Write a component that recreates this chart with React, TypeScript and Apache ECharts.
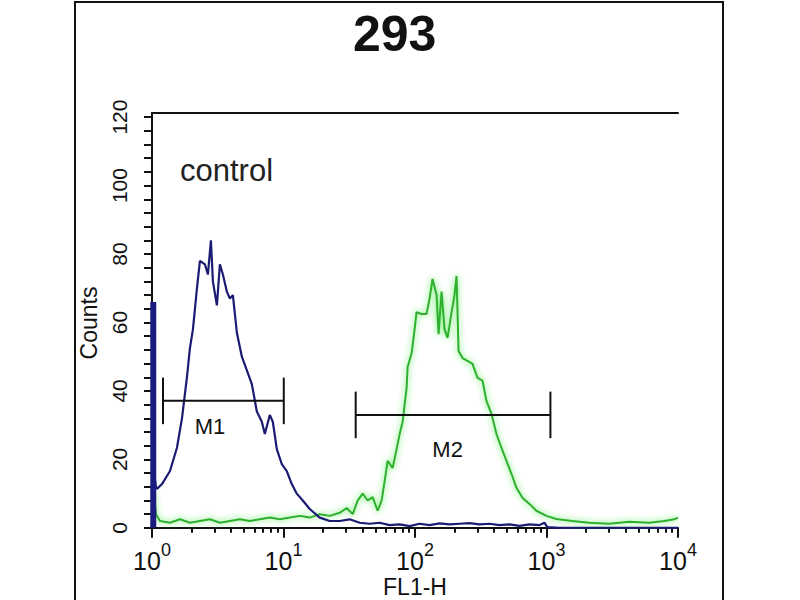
import { useEffect, useRef } from "react";
import * as echarts from "echarts";

// FL1-H intensity vs counts
const blueSpike: [number, number][] = [
  [1.022, 0],
  [1.022, 66],
];

const blueCounts: [number, number][] = [
  [1.054, 14], [1.072, 12], [1.091, 11.4], [1.191, 12.8], [1.37, 16.6],
  [1.548, 23.4], [1.69, 32], [1.844, 44], [1.943, 52.5], [2.048, 58],
  [2.197, 70], [2.314, 78], [2.526, 77], [2.662, 74], [2.805, 84],
  [2.905, 72], [3.115, 65], [3.283, 77], [3.46, 74], [3.711, 69],
  [3.911, 67], [4.121, 68], [4.42, 57], [4.825, 50], [5.265, 46],
  [5.745, 42], [6.27, 34], [6.843, 31], [7.211, 27.4], [7.87, 33],
  [8.294, 31], [8.894, 23], [9.708, 18.6], [10.59, 16.6], [11.56, 12.8],
  [12.62, 10], [14.01, 8], [15.84, 5.5], [18.86, 3], [22.47, 2],
  [26.76, 2], [31.87, 2.5], [37.96, 1.5], [45.2, 1.2], [53.85, 1.5],
  [64.1, 0.8], [76.4, 1], [91.0, 0.5], [108.4, 1.2], [129.1, 0.8],
  [153.8, 1.3], [183.1, 1], [218.2, 1.2], [259.8, 1.4], [309.4, 1],
  [368.6, 1.2], [438.9, 0.8], [522.8, 1], [622.6, 0.6], [741.8, 1],
  [883.5, 0.8], [963.9, 1.5], [1016, 0.2], [1253, 0], [10000, 0],
];

const greenCounts: [number, number][] = [
  [1.0, 9], [1.036, 10], [1.072, 4], [1.15, 2], [1.37, 1.5],
  [1.632, 2.5], [1.943, 1.5], [2.314, 2], [2.757, 2.5], [3.283, 1.5],
  [3.911, 2], [4.658, 2.5], [5.548, 2], [6.607, 2.5], [7.87, 3],
  [9.373, 2.5], [11.16, 3], [13.3, 3.5], [15.84, 3], [18.86, 4],
  [22.47, 3.5], [26.76, 4.4], [30.24, 5.8], [33.6, 4], [36.66, 8],
  [40.01, 10], [43.67, 8], [47.64, 9], [52.0, 5], [55.77, 8],
  [58.78, 13.7], [61.93, 19.6], [67.6, 17.5], [72.51, 23], [76.4, 27.4],
  [80.51, 31], [86.36, 41], [87.87, 47], [94.24, 51], [99.31, 58],
  [102.8, 63], [112.2, 62.5], [122.5, 62.5], [129.1, 67], [136.0, 72.7],
  [145.9, 68], [151.1, 56.6], [159.2, 69], [167.8, 58], [176.8, 55.5],
  [189.7, 63], [199.8, 68], [207.0, 73.6], [214.4, 51.7], [229.8, 49.6],
  [250.8, 48.8], [273.7, 47.9], [298.8, 43.8], [326.1, 43], [349.8, 37],
  [381.6, 33.3], [416.5, 27.4], [454.6, 23.4], [496.0, 19.6], [541.4, 15.8],
  [590.9, 11.7], [656.2, 8.8], [741.8, 7], [838.0, 5], [998.2, 3.5],
  [1189, 2.6], [1573, 2], [2118, 1.5], [3004, 1.2], [4262, 1.8],
  [6045, 1.5], [7860, 2], [9357, 2.5], [10000, 3],
];

// marker gates
const gateNames = ["M1", "M2"];
const gateStart = [1.212, 35.4];
const gateEnd = [10.05, 1071];
const gateLevel = [37.1, 33];
const gateLabelX = [2.76, 177];
const gateLabelY = [29.5, 23];
const gateCap = 6.8;

const yTicks = [
  0, 4, 8, 12, 16, 20, 24, 28, 32, 36, 40, 44, 48, 52, 56, 60, 64, 68, 72,
  76, 80, 84, 88, 92, 96, 100, 104, 108, 112, 116, 120,
];
const yLabels = [0, 20, 40, 60, 80, 100, 120];
const decades = [0, 1, 2, 3];
const minorFactors = [2, 3, 4, 5, 6, 7, 8, 9];

const FONT = "'Liberation Sans Narrow', 'Liberation Sans', Arial, sans-serif";

export default function App() {
  const chartRef = useRef<HTMLDivElement>(null);

  useEffect(() => {
    if (!chartRef.current) return;
    const chart = echarts.init(chartRef.current, undefined, { renderer: "svg" });

    const minorTicks: number[] = [];
    decades.forEach((d) => minorFactors.forEach((f) => minorTicks.push(d + Math.log10(f))));

    const gateData = gateNames.map((_, i) => [
      gateStart[i],
      gateEnd[i],
      gateLevel[i],
      gateLabelX[i],
      gateLabelY[i],
    ]);

    const option: any = {
      animation: false,
      backgroundColor: "#ffffff",
      title: {
        text: "293",
        left: 348,
        top: 4,
        textStyle: {
          fontFamily: "'Liberation Sans', Arial, sans-serif",
          fontWeight: "bold",
          fontSize: 50,
          color: "#111",
        },
      },
      grid: {
        left: 152,
        right: 122,
        top: 113,
        bottom: 67,
        containLabel: false,
        outerBoundsMode: "none",
      },
      xAxis: [
        {
          type: "log",
          logBase: 10,
          min: 1,
          max: 10000,
          position: "bottom",
          name: "FL1-H",
          nameLocation: "middle",
          nameGap: 44,
          nameMoveOverlap: false,
          nameTextStyle: { fontFamily: FONT, fontSize: 23, lineHeight: 20, color: "#111" },
          axisLine: { lineStyle: { color: "#111", width: 2 } },
          axisTick: { length: 10, lineStyle: { color: "#111", width: 2 } },
          splitLine: { show: false },
          axisLabel: {
            margin: 8,
            formatter: (v: number) => `{b|10}{s|${Math.round(Math.log10(v))}}`,
            rich: {
              b: { fontFamily: FONT, fontSize: 25, lineHeight: 40, color: "#111" },
              s: {
                fontFamily: FONT,
                fontSize: 18,
                lineHeight: 17,
                color: "#111",
                verticalAlign: "top",
              },
            },
          },
        },
        {
          type: "value",
          min: 0,
          max: 4,
          position: "bottom",
          axisLine: { show: false },
          axisLabel: { show: false },
          splitLine: { show: false },
          axisTick: {
            customValues: minorTicks,
            length: 5,
            lineStyle: { color: "#111", width: 2 },
          },
        },
        {
          type: "value",
          min: 0,
          max: 4,
          position: "top",
          axisLine: { lineStyle: { color: "#111", width: 2 } },
          axisLabel: { show: false },
          axisTick: { show: false },
          splitLine: { show: false },
        },
      ],
      yAxis: [
        {
          type: "value",
          min: -1.5,
          max: 121.2,
          name: "Counts",
          nameLocation: "middle",
          nameGap: 52,
          nameTextStyle: { fontFamily: FONT, fontSize: 23, color: "#111" },
          axisLine: { lineStyle: { color: "#111", width: 2 } },
          axisTick: {
            customValues: yTicks,
            length: 8,
            lineStyle: { color: "#111", width: 2 },
          },
          axisLabel: {
            customValues: yLabels,
            rotate: 90,
            margin: 22,
            fontFamily: FONT,
            fontSize: 21,
            color: "#111",
          },
          splitLine: { show: false },
        },
        {
          type: "value",
          min: -1.5,
          max: 121.2,
          position: "right",
          axisLine: { lineStyle: { color: "#111", width: 2 } },
          axisLabel: { show: false },
          axisTick: { show: false },
          splitLine: { show: false },
        },
      ],
      graphic: [
        {
          type: "rect",
          shape: { x: 75, y: 2, width: 648, height: 640 },
          style: { fill: "none", stroke: "#111", lineWidth: 2 },
          silent: true,
        },
        {
          type: "text",
          x: 180,
          y: 170,
          style: {
            text: "control",
            fontFamily: "'Liberation Sans', Arial, sans-serif",
            fontSize: 31,
            fill: "#222",
            textVerticalAlign: "middle",
          },
        },
      ],
      series: [
        {
          name: "FL1-H",
          type: "line",
          data: greenCounts,
          showSymbol: false,
          z: 3,
          lineStyle: {
            color: "#2eb02e",
            width: 2,
            shadowColor: "rgba(80,235,80,1)",
            shadowBlur: 6,
          },
        },
        {
          name: "control",
          type: "line",
          data: blueCounts,
          showSymbol: false,
          z: 4,
          lineStyle: { color: "#1b1b72", width: 2.2 },
        },
        {
          name: "control spike",
          type: "line",
          data: blueSpike,
          showSymbol: false,
          z: 4,
          lineStyle: { color: "#1b1b80", width: 6 },
        },
        {
          name: "gates",
          type: "custom",
          data: gateData,
          z: 5,
          renderItem: (params: any, api: any) => {
            const level = api.value(2);
            const p1 = api.coord([api.value(0), level]);
            const p2 = api.coord([api.value(1), level]);
            const capTop = api.coord([api.value(0), level + gateCap])[1];
            const capBot = api.coord([api.value(0), level - gateCap])[1];
            const lp = api.coord([api.value(3), api.value(4)]);
            const stroke = { stroke: "#111", lineWidth: 2 };
            return {
              type: "group",
              children: [
                { type: "line", shape: { x1: p1[0], y1: p1[1], x2: p2[0], y2: p2[1] }, style: stroke },
                { type: "line", shape: { x1: p1[0], y1: capTop, x2: p1[0], y2: capBot }, style: stroke },
                { type: "line", shape: { x1: p2[0], y1: capTop, x2: p2[0], y2: capBot }, style: stroke },
                {
                  type: "text",
                  x: lp[0],
                  y: lp[1],
                  style: {
                    text: gateNames[params.dataIndex],
                    fontFamily: FONT,
                    fontSize: 22,
                    fill: "#111",
                    textAlign: "center",
                    textVerticalAlign: "middle",
                  },
                },
              ],
            };
          },
        },
      ],
    };

    chart.setOption(option);
    return () => {
      chart.dispose();
    };
  }, []);

  return (
    <div
      ref={chartRef}
      style={{ position: "absolute", left: 0, top: 0, width: 800, height: 600 }}
    />
  );
}
